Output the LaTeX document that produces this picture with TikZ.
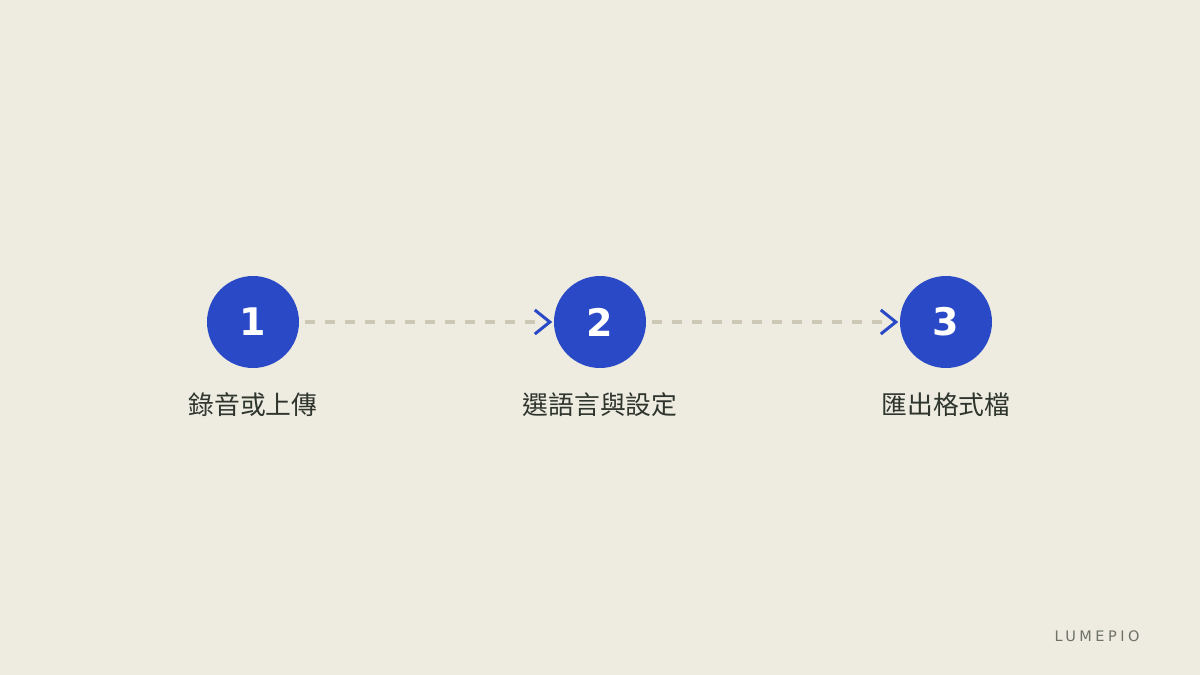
\documentclass[tikz,border=0pt]{standalone}
\usepackage{fontspec}
\setmainfont{DejaVu Sans}
\newfontfamily\cjk{Noto Sans CJK TC}
\newfontfamily\brand[LetterSpace=24]{DejaVu Sans}
\definecolor{bg}{HTML}{EEEBE0}
\definecolor{stepblue}{HTML}{2949C7}
\definecolor{dashc}{HTML}{CDC7B6}
\definecolor{labelc}{HTML}{2E352D}
\definecolor{brandc}{HTML}{6E7268}
\begin{document}
\begin{tikzpicture}[x=1pt,y=-1pt,
  stepcircle/.style={circle,fill=stepblue,minimum size=92pt,inner sep=0pt,
    text=white,font=\fontsize{38}{38}\selectfont\bfseries},
  steplabel/.style={font=\cjk\fontsize{25.8}{25.8}\selectfont,text=labelc},
  dashline/.style={draw=dashc,line width=4pt,dash pattern=on 10pt off 10pt},
  chev/.style={draw=stepblue,line width=3pt,line cap=butt,line join=miter}]
\fill[bg] (0,0) rectangle (1200,675);
\useasboundingbox (0,0) rectangle (1200,675);
\node[stepcircle] (s1) at (253,322) {1};
\node[stepcircle] (s2) at (600,322) {2};
\node[stepcircle] (s3) at (946,322) {3};
\node[steplabel] (l1) at (253,405) {錄音或上傳};
\node[steplabel] (l2) at (600,405) {選語言與設定};
\node[steplabel] (l3) at (946,405) {匯出格式檔};
\coordinate (a1) at ([xshift=-4pt]s2.west);
\coordinate (a2) at ([xshift=-4pt]s3.west);
\draw[dashline] ([xshift=6pt]s1.east) -- ([xshift=-12pt]a1);
\draw[dashline] ([xshift=6pt]s2.east) -- ([xshift=-12pt]a2);
\draw[chev] ([xshift=-15pt,yshift=-12pt]a1) -- (a1) -- ([xshift=-15pt,yshift=12pt]a1);
\draw[chev] ([xshift=-15pt,yshift=-12pt]a2) -- (a2) -- ([xshift=-15pt,yshift=12pt]a2);
\node[font=\brand\fontsize{14.5}{14.5}\selectfont,text=brandc,anchor=east] (brand) at (1143,636) {LUMEPIO};
\end{tikzpicture}
\end{document}
